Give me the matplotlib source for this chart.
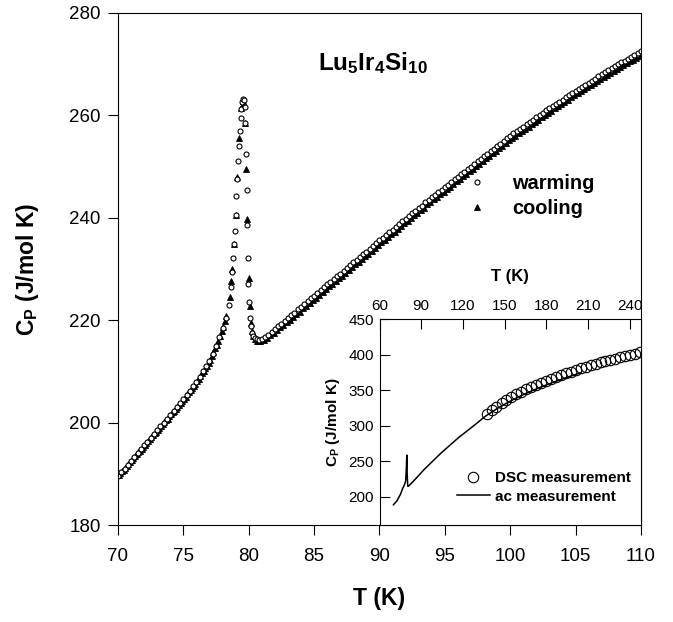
import numpy as np
import matplotlib
matplotlib.use("Agg")
import matplotlib.pyplot as plt

plt.rcParams['font.family'] = ['Liberation Sans', 'DejaVu Sans']
plt.rcParams['mathtext.fontset'] = 'custom'
plt.rcParams['mathtext.rm'] = 'Liberation Sans'
plt.rcParams['mathtext.bf'] = 'Liberation Sans:bold'
plt.rcParams['mathtext.it'] = 'Liberation Sans:italic'

# ---- main panel: warming (open circles) ----
warm_T_low = np.arange(70.0, 78.51, 0.25)
warm_cp_low = [189.6, 190.3, 191.0, 191.8, 192.5, 193.3, 194.0, 194.8, 195.6, 196.3,
               197.0, 197.8, 198.5, 199.3, 200.0, 200.8, 201.5, 202.3, 203.0, 203.8,
               204.6, 205.4, 206.2, 207.1, 208.0, 209.0, 210.0, 211.0, 212.1, 213.5,
               215.0, 216.7, 218.5, 220.5, 223.0]
warm_T_peak = [78.65, 78.75, 78.82, 78.88, 78.94, 79.0, 79.06, 79.12, 79.2, 79.26,
               79.32, 79.38, 79.44, 79.5, 79.56, 79.62, 79.68, 79.73, 79.78, 79.83,
               79.88, 79.92, 79.98, 80.04, 80.1, 80.16, 80.24, 80.34, 80.46, 80.6, 80.75]
warm_cp_peak = [226.5, 229.5, 232.2, 234.8, 237.5, 240.6, 244.2, 247.6, 251.0, 254.0,
                256.9, 259.5, 261.3, 262.6, 263.3, 263.0, 261.6, 258.5, 252.5, 245.5,
                238.5, 232.2, 227.0, 223.5, 220.5, 218.8, 217.6, 216.9, 216.5, 216.3, 216.2]
warm_T_high = np.arange(81.0, 110.01, 0.25)
warm_cp_high = [216.3, 216.7, 217.2, 217.7, 218.2, 218.8, 219.3, 219.9, 220.4, 221.0,
                221.5, 222.1, 222.6, 223.2, 223.7, 224.3, 224.8, 225.4, 225.9, 226.5,
                227.0, 227.5, 228.1, 228.6, 229.1, 229.7, 230.2, 230.8, 231.3, 231.8,
                232.4, 232.9, 233.4, 234.0, 234.5, 235.1, 235.6, 236.1, 236.7, 237.2,
                237.7, 238.2, 238.8, 239.3, 239.8, 240.3, 240.9, 241.4, 241.9, 242.4,
                243.0, 243.5, 244.0, 244.5, 245.0, 245.5, 246.0, 246.5, 247.0, 247.5,
                248.0, 248.5, 249.0, 249.5, 250.0, 250.5, 251.0, 251.5, 252.0, 252.5,
                253.0, 253.5, 254.0, 254.5, 255.0, 255.5, 256.0, 256.5, 256.9, 257.4,
                257.8, 258.3, 258.7, 259.2, 259.6, 260.1, 260.5, 261.0, 261.4, 261.8,
                262.3, 262.7, 263.1, 263.5, 264.0, 264.4, 264.8, 265.2, 265.6, 266.0,
                266.4, 266.8, 267.2, 267.6, 268.0, 268.4, 268.8, 269.2, 269.6, 270.0,
                270.4, 270.7, 271.1, 271.5, 271.8, 272.2, 272.5]

# ---- main panel: cooling (filled triangles) ----
cool_T_low = np.arange(70.05, 78.31, 0.125)
cool_cp_low = [189.8, 190.1, 190.5, 190.8, 191.2, 191.6, 191.9, 192.3,
               192.7, 193.0, 193.4, 193.8, 194.2, 194.5, 194.9, 195.3,
               195.7, 196.0, 196.4, 196.8, 197.1, 197.5, 197.9, 198.2,
               198.6, 199.0, 199.4, 199.7, 200.1, 200.5, 200.8, 201.2,
               201.6, 202.0, 202.3, 202.7, 203.1, 203.5, 203.9, 204.3,
               204.7, 205.1, 205.5, 205.9, 206.3, 206.7, 207.2, 207.6,
               208.1, 208.6, 209.1, 209.6, 210.1, 210.6, 211.1, 211.7,
               212.3, 213.0, 213.7, 214.5, 215.2, 216.0, 216.9, 217.8,
               218.7, 219.8, 220.9]
cool_T_peak = [78.55, 78.66, 78.74, 78.88, 79.0, 79.12, 79.28, 79.44, 79.54, 79.6,
               79.72, 79.8, 79.88, 79.99, 80.06, 80.14, 80.22, 80.32, 80.45, 80.6, 80.75]
cool_cp_peak = [224.6, 227.6, 230.0, 234.9, 240.6, 248.0, 255.5, 261.5, 262.8, 262.2,
                258.5, 249.6, 239.8, 228.3, 222.8, 219.5, 217.8, 216.9, 216.3, 216.0, 215.9]
cool_T_high = np.arange(80.9, 109.91, 0.25)
cool_cp_high = [215.9, 216.2, 216.6, 217.1, 217.6, 218.1, 218.6, 219.1, 219.6, 220.1,
                220.6, 221.2, 221.7, 222.3, 222.8, 223.3, 223.9, 224.4, 225.0, 225.5,
                226.1, 226.6, 227.1, 227.7, 228.2, 228.7, 229.3, 229.8, 230.4, 230.9,
                231.4, 232.0, 232.5, 233.0, 233.6, 234.1, 234.7, 235.2, 235.7, 236.3,
                236.8, 237.3, 237.8, 238.4, 238.9, 239.4, 239.9, 240.5, 241.0, 241.5,
                242.0, 242.6, 243.1, 243.6, 244.1, 244.6, 245.1, 245.6, 246.1, 246.6,
                247.1, 247.6, 248.1, 248.6, 249.1, 249.6, 250.1, 250.6, 251.1, 251.6,
                252.1, 252.6, 253.1, 253.6, 254.1, 254.6, 255.1, 255.6, 256.0, 256.5,
                256.9, 257.4, 257.8, 258.3, 258.7, 259.2, 259.6, 260.1, 260.5, 260.9,
                261.4, 261.8, 262.2, 262.6, 263.1, 263.5, 263.9, 264.3, 264.7, 265.1,
                265.5, 265.9, 266.3, 266.7, 267.1, 267.5, 267.9, 268.3, 268.7, 269.1,
                269.5, 269.8, 270.2, 270.6, 270.9, 271.3, 271.6]

# ---- inset: ac measurement (line) and DSC (circles) ----
ac_T = [70, 72.5, 75, 76.5, 77.8, 78.8, 79.3, 79.6, 79.9, 80.3, 81, 85, 92.4, 104.6,
        116.8, 129, 136.3, 145, 155, 165, 175, 185, 195, 205]
ac_cp = [188.5, 194, 203, 210.8, 216, 222, 240, 258.4, 232, 214.5, 215, 223, 238.8, 262,
         283, 301.8, 313.4, 324.5, 335.5, 345, 353.5, 361, 368, 374.5]
dsc_T = [137.0, 140.6, 144.1, 147.7, 151.2, 154.8, 158.4, 161.9, 165.5, 169.0, 172.6,
         176.2, 179.7, 183.3, 186.8, 190.4, 194.0, 197.5, 201.1, 204.6, 208.2, 211.8,
         215.3, 218.9, 222.4, 226.0, 229.6, 233.1, 236.7, 240.2, 243.8, 247.4]
dsc_cp = [315.8, 321.8, 326.5, 331.2, 335.9, 340.1, 343.8, 347.5, 350.8, 354.1, 357.3,
          360.1, 362.9, 365.7, 368.5, 370.9, 373.7, 376.0, 378.3, 380.7, 383.1, 384.9,
          386.7, 389.1, 390.9, 392.8, 394.2, 396.1, 397.9, 399.8, 401.2, 403.5]

warm_T = np.concatenate([warm_T_low, warm_T_peak, warm_T_high])
warm_cp = np.concatenate([warm_cp_low, warm_cp_peak, warm_cp_high])
cool_T = np.concatenate([cool_T_low, cool_T_peak, cool_T_high])
cool_cp = np.concatenate([cool_cp_low, cool_cp_peak, cool_cp_high])

fig = plt.figure(figsize=(6.73, 6.22), dpi=100)
ax = fig.add_axes([0.1753, 0.1559, 0.7771, 0.8232])

ax.plot(cool_T, cool_cp, linestyle='none', marker='^', ms=4.6, color='black',
        mec='black', mew=0.6, label='cooling')
ax.plot(warm_T, warm_cp, linestyle='none', marker='o', ms=3.6, mfc='white',
        mec='black', mew=0.8, label='warming')

ax.set_xlim(70, 110)
ax.set_ylim(180, 280)
ax.set_xticks(np.arange(70, 111, 5))
ax.set_yticks(np.arange(180, 281, 20))
ax.tick_params(axis='both', direction='out', length=7.5, width=0.8, labelsize=13.5,
               top=False, right=False)
ax.tick_params(axis='x', pad=9)
ax.tick_params(axis='y', pad=5)
for s in ax.spines.values():
    s.set_linewidth(0.8)

ax.set_xlabel('T (K)', fontsize=16.5, fontweight='bold', labelpad=16)
ax.set_ylabel(r'$\mathbf{C_P}$ (J/mol K)', fontsize=16.5, fontweight='bold', labelpad=20)

ax.text(0.4876, 0.9025, r'$\mathbf{Lu_5Ir_4Si_{10}}$', transform=ax.transAxes,
        ha='center', va='center', fontsize=17.5)

handles, labels = ax.get_legend_handles_labels()
leg = ax.legend(handles[::-1], labels[::-1], loc='upper left',
                bbox_to_anchor=(0.667, 0.685), frameon=False,
                prop={'weight': 'bold', 'size': 14.4}, handlelength=1.0,
                handletextpad=1.25, labelspacing=0.3, borderpad=0, borderaxespad=0)

# ---- inset ----
ins = fig.add_axes([0.5639, 0.1559, 0.3886, 0.3312])
ins.set_facecolor('white')
ins.plot(ac_T, ac_cp, color='black', lw=1.1, label='ac measurement')
ins.plot(dsc_T, dsc_cp, linestyle='none', marker='o', ms=7.5, mfc='none', mec='black',
         mew=0.8, label='DSC measurement')
ins.set_xlim(60, 248)
ins.set_ylim(160, 450)
ins.set_xticks(np.arange(60, 241, 30))
ins.set_yticks(np.arange(200, 451, 50))
ins.xaxis.tick_top()
ins.xaxis.set_label_position('top')
ins.tick_params(axis='both', direction='in', length=7.5, width=0.8, labelsize=11,
                bottom=False, right=False, pad=4)
for s in ins.spines.values():
    s.set_linewidth(0.8)
ins.set_xlabel('T (K)', fontsize=12, fontweight='bold', labelpad=13)
ins.set_ylabel(r'$\mathbf{C_P}$ (J/mol K)', fontsize=11, fontweight='bold', labelpad=5)

h2, l2 = ins.get_legend_handles_labels()
ins.legend(h2[::-1], l2[::-1], loc='upper left', bbox_to_anchor=(0.295, 0.262),
           frameon=False, prop={'weight': 'bold', 'size': 11}, handlelength=2.2,
           handletextpad=0.3, labelspacing=0.3, borderpad=0, borderaxespad=0)

plt.savefig('out.png', dpi=100)
